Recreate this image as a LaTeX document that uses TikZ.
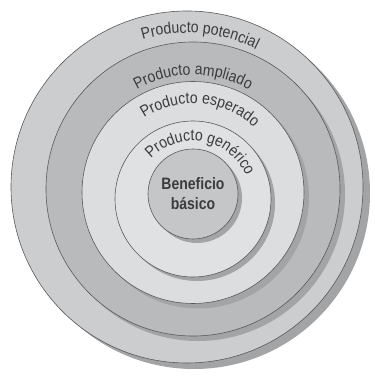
\documentclass[tikz,border=0pt]{standalone}
\usepackage{fontspec}
\setmainfont{Liberation Sans}
\newfontfamily\ringfont{Liberation Sans}[FakeStretch=0.88]
\newfontfamily\corefont{Liberation Sans}[FakeStretch=0.85]
\usetikzlibrary{decorations.text}
\definecolor{ringA}{HTML}{CCCDCF}
\definecolor{ringB}{HTML}{B9BABC}
\definecolor{ringC}{HTML}{DCDDDF}
\definecolor{ringD}{HTML}{E0E1E3}
\definecolor{ringE}{HTML}{C5C6C8}
\definecolor{shadowc}{HTML}{A3A4A6}
\definecolor{edgec}{HTML}{5A5A5C}
\definecolor{txtc}{HTML}{3C3C3E}
\tikzset{
  ringbox/.style={circle, draw=edgec, line width=0.6pt, inner sep=0pt},
  shadowbox/.style={circle, fill=shadowc, inner sep=0pt},
  ringlabel/.style={decorate, decoration={text along path, text align=center,
      text color=txtc, text={|\ringfont\fontsize{16}{18}\selectfont|#1}}}
}
\begin{document}
\begin{tikzpicture}[x=1pt,y=1pt]
\useasboundingbox (0,0) rectangle (374,382);
\fill[white] (0,0) rectangle (374,382);
% centres
\coordinate (cA) at (187,195);
\coordinate (cB) at (193,193);
\coordinate (cC) at (193,189.5);
\coordinate (cD) at (193,183);
\coordinate (cE) at (193,188);
% outer ring
\node[shadowbox, minimum size=352pt] (sA) at ([shift={(7,-6)}]cA) {};
\node[ringbox, fill=ringA, minimum size=352pt] (potencial) at (cA) {};
% ampliado
\node[shadowbox, minimum size=294pt] (sB) at ([shift={(5,-5)}]cB) {};
\node[ringbox, fill=ringB, minimum size=294pt] (ampliado) at (cB) {};
% esperado
\node[shadowbox, minimum size=222pt] (sC) at ([shift={(5,-5)}]cC) {};
\node[ringbox, fill=ringC, minimum size=222pt] (esperado) at (cC) {};
% generico
\node[shadowbox, minimum size=156pt] (sD) at ([shift={(4,-4)}]cD) {};
\node[ringbox, fill=ringD, minimum size=156pt] (generico) at (cD) {};
% core
\node[shadowbox, minimum size=90pt] (sE) at ([shift={(4,-4)}]cE) {};
\node[ringbox, fill=ringE, minimum size=90pt, text=txtc, align=center,
  font=\corefont\bfseries\fontsize{16.5}{20}\selectfont] (core) at (cE)
  {Beneficio\\básico};
% curved labels
\path[ringlabel={Producto potencial}] ([shift={(175:154pt)}]cA) arc[start angle=175, end angle=-5, radius=154pt];
\path[ringlabel={Producto ampliado}] ([shift={(180:114pt)}]cB) arc[start angle=180, end angle=0, radius=114pt];
\path[ringlabel={Producto esperado}] ([shift={(175:89pt)}]cC) arc[start angle=175, end angle=-5, radius=89pt];
\path[ringlabel={Producto genérico}] ([shift={(170:58pt)}]cD) arc[start angle=170, end angle=-10, radius=58pt];
\end{tikzpicture}
\end{document}
